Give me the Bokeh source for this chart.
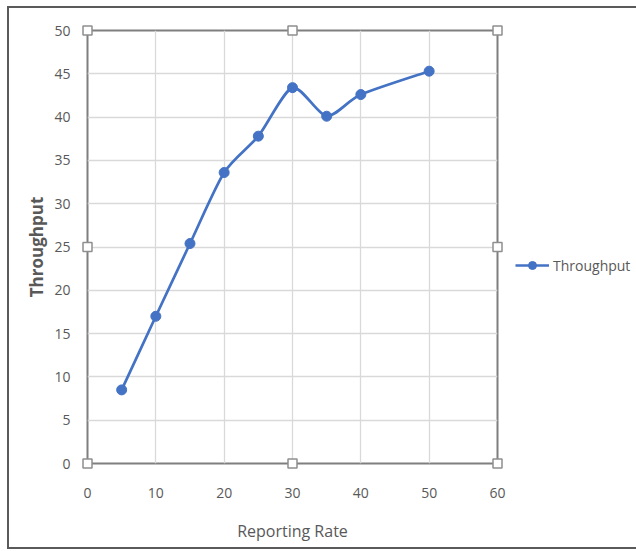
from bokeh.plotting import figure
from bokeh.layouts import row
from bokeh.models import ColumnDataSource, Legend, LegendItem, Range1d, FixedTicker
from bokeh.embed import file_html
from bokeh.resources import INLINE

# ---- data ----
reporting_rate = [5, 10, 15, 20, 25, 30, 35, 40, 50]
throughput = [8.5, 17.0, 25.4, 33.6, 37.8, 43.4, 40.1, 42.6, 45.3]
x_ticks = [0, 10, 20, 30, 40, 50, 60]
y_ticks = [0, 5, 10, 15, 20, 25, 30, 35, 40, 45, 50]
series_name = "Throughput"
x_title = "Reporting Rate"
y_title = "Throughput"

X_MIN, X_MAX = 0, 60
Y_MIN, Y_MAX = 0, 50

BLUE = "#4472C4"
TEXT = "#595959"
FONT = "Open Sans"

p = figure(width=510, height=551, output_backend="svg", toolbar_location=None,
           x_range=Range1d(X_MIN, X_MAX), y_range=Range1d(Y_MIN, Y_MAX),
           min_border_left=87, min_border_right=13, min_border_top=30, min_border_bottom=88)
p.border_fill_color = None
p.background_fill_color = "white"
p.outline_line_color = "#7f7f7f"
p.outline_line_width = 2

p.xaxis.ticker = FixedTicker(ticks=x_ticks)
p.yaxis.ticker = FixedTicker(ticks=y_ticks)
for ax in (p.xaxis[0], p.yaxis[0]):
    ax.axis_line_color = None
    ax.major_tick_line_color = None
    ax.minor_tick_line_color = None
    ax.major_label_text_font = FONT
    ax.major_label_text_font_size = "14px"
    ax.major_label_text_color = TEXT
    ax.axis_label_text_font = FONT
    ax.axis_label_text_color = TEXT
p.xaxis.axis_label = x_title
p.yaxis.axis_label = y_title
p.xaxis.axis_label_text_font_size = "16px"
p.yaxis.axis_label_text_font_size = "17px"
p.xaxis.axis_label_text_font_style = "normal"
p.yaxis.axis_label_text_font_style = "bold"
p.xaxis.major_label_standoff = 18
p.yaxis.major_label_standoff = 11
p.xaxis.axis_label_standoff = 19
p.yaxis.axis_label_standoff = 3

p.xgrid.grid_line_color = "#d9d9d9"
p.ygrid.grid_line_color = "#d9d9d9"
p.xgrid.grid_line_width = 1.3
p.ygrid.grid_line_width = 1.3

# smoothed line (gentle bezier segments through the data points)
T = 8.0
n = len(reporting_rate)
x0, y0, x1, y1, cx0, cy0, cx1, cy1 = [], [], [], [], [], [], [], []
for i in range(n - 1):
    pm = i - 1 if i > 0 else i
    pp = i + 2 if i + 2 < n else i + 1
    x0.append(reporting_rate[i]); y0.append(throughput[i])
    x1.append(reporting_rate[i + 1]); y1.append(throughput[i + 1])
    cx0.append(reporting_rate[i] + (reporting_rate[i + 1] - reporting_rate[pm]) / T)
    cy0.append(throughput[i] + (throughput[i + 1] - throughput[pm]) / T)
    cx1.append(reporting_rate[i + 1] - (reporting_rate[pp] - reporting_rate[i]) / T)
    cy1.append(throughput[i + 1] - (throughput[pp] - throughput[i]) / T)
bez_src = ColumnDataSource(dict(x0=x0, y0=y0, x1=x1, y1=y1, cx0=cx0, cy0=cy0, cx1=cx1, cy1=cy1))
p.bezier(x0="x0", y0="y0", x1="x1", y1="y1", cx0="cx0", cy0="cy0", cx1="cx1", cy1="cy1",
         source=bez_src, line_color=BLUE, line_width=2.7)

src = ColumnDataSource(dict(x=reporting_rate, y=throughput))
p.scatter("x", "y", source=src, size=10, fill_color=BLUE, line_color=BLUE)

# chart-area selection handles at the frame corners and midpoints
hx = [X_MIN, X_MIN, X_MIN, (X_MIN + X_MAX) / 2, X_MAX, X_MAX, X_MAX, (X_MIN + X_MAX) / 2]
hy = [Y_MIN, (Y_MIN + Y_MAX) / 2, Y_MAX, Y_MAX, Y_MAX, (Y_MIN + Y_MAX) / 2, Y_MIN, Y_MIN]
p.scatter(hx, hy, marker="square", size=9, fill_color="white", line_color="#8f8f8f",
          line_width=1.5, level="overlay")

# ---- legend panel (separate, axis-less figure to the right) ----
lg = figure(width=126, height=551, output_backend="svg", toolbar_location=None,
            x_range=Range1d(0, 1), y_range=Range1d(0, 1),
            min_border_left=0, min_border_right=0, min_border_top=0, min_border_bottom=0)
lg.axis.visible = False
lg.grid.visible = False
lg.outline_line_color = None
lg.border_fill_color = None
lg.background_fill_color = None
leg_line = lg.line([0], [0], line_color=BLUE, line_width=2.7, visible=False)
leg_pt = lg.scatter([0], [0], size=9, fill_color=BLUE, line_color=BLUE, visible=False)
legend = Legend(items=[LegendItem(label=series_name, renderers=[leg_line, leg_pt])],
                location=(5, 188), orientation="vertical")
legend.glyph_width = 34
legend.glyph_height = 20
legend.label_standoff = 4
legend.padding = 0
legend.margin = 0
legend.spacing = 0
legend.border_line_color = None
legend.background_fill_color = None
legend.label_text_font = FONT
legend.label_text_font_size = "14px"
legend.label_text_color = TEXT
lg.add_layout(legend, "center")

g = "linear-gradient(#5a5a5a,#5a5a5a)"
layout = row(p, lg, spacing=0)
layout.styles = {"background": f"{g} 7px 6px / 2px 543px no-repeat, {g} 7px 6px / 629px 2px no-repeat, "
                               f"{g} 7px 547px / 629px 2px no-repeat, white"}

open("out.html", "w").write(file_html(layout, INLINE))
